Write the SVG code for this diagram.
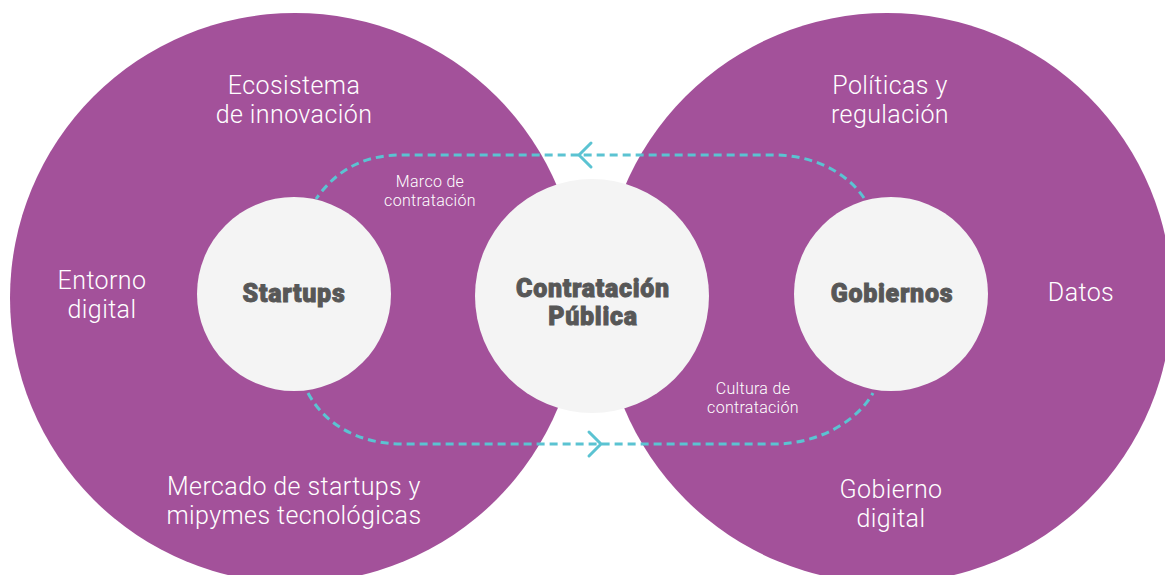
<svg xmlns="http://www.w3.org/2000/svg" width="1165" height="575" viewBox="0 0 1165 575">
<style>
.big{fill:#a3519a}
.inner{fill:#f4f4f4}
.lbl{font-family:Roboto,"Liberation Sans",sans-serif;font-weight:300;font-size:25px;letter-spacing:0.4px;fill:#ffffff;text-anchor:middle}
.sm{font-family:Roboto,"Liberation Sans",sans-serif;font-weight:300;font-size:16px;letter-spacing:0.3px;fill:#ffffff;text-anchor:middle}
.bold{font-family:Roboto,"Liberation Sans",sans-serif;font-weight:900;font-size:25px;letter-spacing:0.7px;fill:#575757;stroke:#575757;stroke-width:0.9px;text-anchor:middle}
.dash{fill:none;stroke:#5bc3d2;stroke-width:3;stroke-dasharray:8 5}
.chev{fill:none;stroke:#5bc3d2;stroke-width:3;stroke-linecap:round;stroke-linejoin:round}
</style>
<rect width="1165" height="575" fill="#ffffff"/>
<g id="ecosistema-startups">
<circle class="big" cx="295" cy="298" r="285"/>
<text class="lbl" x="294" y="94">Ecosistema</text>
<text class="lbl" x="294" y="123">de innovación</text>
<text class="lbl" x="102" y="289">Entorno</text>
<text class="lbl" x="102" y="318">digital</text>
<text class="lbl" x="294" y="495">Mercado de startups y</text>
<text class="lbl" x="294" y="524">mipymes tecnológicas</text>
</g>
<g id="ecosistema-gobiernos">
<circle class="big" cx="887" cy="298" r="285"/>
<text class="lbl" x="890" y="94">Políticas y</text>
<text class="lbl" x="890" y="123">regulación</text>
<text class="lbl" x="1081" y="301">Datos</text>
<text class="lbl" x="891" y="498">Gobierno</text>
<text class="lbl" x="891" y="527">digital</text>
</g>
<g id="connectors">
<path class="dash" d="M864 198 C845 170 810 155 774 155 L402 155 C370 155 340 165 316 199"/>
<polyline class="chev" points="591,143 579,155 591,167"/>
<path class="dash" d="M308 393 C325 425 360 444 402 444 L774 444 C820 444 858 420 873 393"/>
<polyline class="chev" points="589,432 601,444 589,456"/>
<text class="sm" x="430" y="187">Marco de</text>
<text class="sm" x="430" y="206">contratación</text>
<text class="sm" x="753" y="394">Cultura de</text>
<text class="sm" x="753" y="413">contratación</text>
</g>
<g id="startups">
<circle class="inner" cx="294" cy="294" r="97"/>
<text class="bold" x="294" y="302">Startups</text>
</g>
<g id="contratacion-publica">
<circle class="inner" cx="592" cy="296" r="117"/>
<text class="bold" x="593" y="297">Contratación</text>
<text class="bold" x="593" y="325">Pública</text>
</g>
<g id="gobiernos">
<circle class="inner" cx="891" cy="294" r="97"/>
<text class="bold" x="892" y="302">Gobiernos</text>
</g>
</svg>
